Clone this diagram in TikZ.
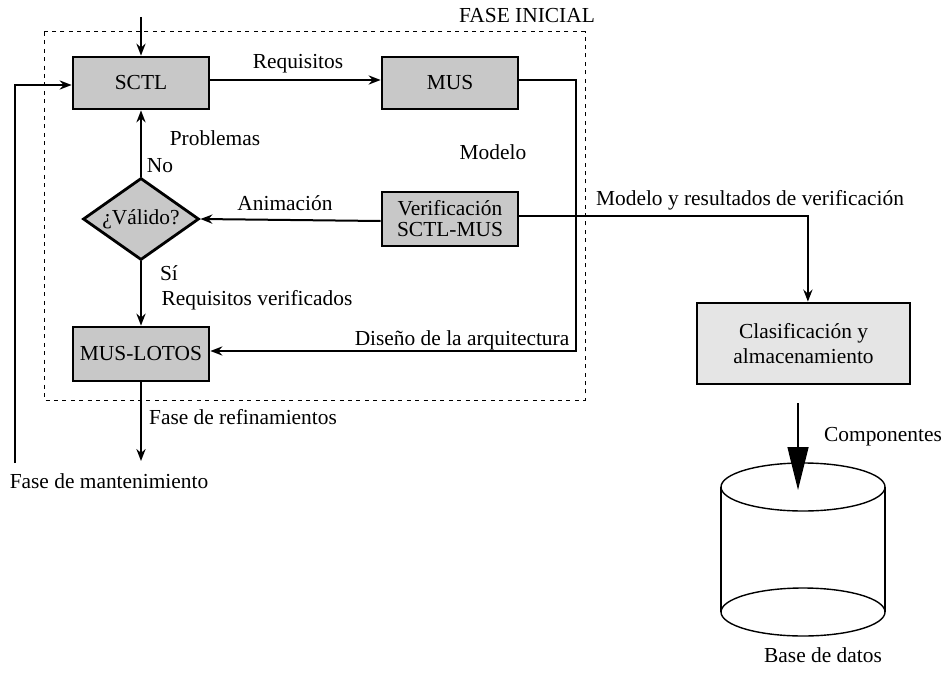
\documentclass[tikz,border=0pt]{standalone}
\usepackage{fontspec}
\setmainfont{Liberation Serif}
\usetikzlibrary{arrows.meta,shapes.geometric,calc}
\definecolor{boxgray}{RGB}{200,200,200}
\definecolor{lightgray}{RGB}{229,229,229}
\begin{document}
\begin{tikzpicture}[x=0.5pt,y=-0.5pt,
  font=\fontsize{10.7}{12.5}\selectfont,
  procbox/.style={draw, line width=1.4pt, fill=boxgray, inner sep=0pt, minimum width=68pt, minimum height=26pt, align=center},
  decbox/.style={draw, line width=1.4pt, fill=boxgray, shape=diamond, aspect=1.6, inner sep=0pt, minimum width=58pt, minimum height=41pt},
  conn/.style={line width=1pt, -{Stealth[length=6pt,width=4.6pt,inset=2pt]}},
  lbl/.style={inner sep=0pt}
]
\useasboundingbox (0,0) rectangle (946,674);
% dashed frame
\draw[line width=0.5pt, dash pattern=on 2pt off 2.2pt] (44,32) rectangle (585,400);
\node[lbl] (fase) at (527,16) {FASE INICIAL};

% nodes
\node[procbox] (sctl) at (141,83) {SCTL};
\node[procbox] (mus) at (450,83) {MUS};
\node[procbox, minimum height=27pt] (verif) at (450,219) {Verificación\\[-2pt]SCTL-MUS};
\node[decbox] (valido) at (141,219) {¿Válido?};
\node[procbox, minimum height=27pt] (muslotos) at (141,354) {MUS-LOTOS};
\node[draw, line width=1.4pt, fill=lightgray, inner sep=0pt, minimum width=106.5pt, minimum height=40.5pt, align=center] (clas) at (803.5,343.5) {Clasificación y\\almacenamiento};

% coordinates
\coordinate (topin) at (141,17);
\coordinate (mant) at (15,463);
\coordinate (refin) at (141,461);
\coordinate (bend) at (576,351);
\coordinate (compA) at (798,403);
\coordinate (compB) at (798,490);

% connectors
\draw[conn] (topin) -- (sctl.north);
\draw[conn] (mant) |- ([yshift=-1pt]sctl.west);
\draw[conn] ([yshift=1.5pt]sctl.east) -- ([yshift=1.5pt]mus.west);
\draw[conn] ([yshift=1.5pt]mus.east) -| (bend) -- ([yshift=1.5pt]muslotos.east);
\draw[conn] ([yshift=-1pt]verif.west) -- (valido.east);
\draw[conn] (valido.north) -- (sctl.south);
\draw[conn] (valido.south) -- (muslotos.north);
\draw[conn] (muslotos.south) -- (refin);
\draw[conn] ([yshift=1.5pt]verif.east) -| ([xshift=2.2pt]clas.north);
\draw[line width=0.7pt, -{Triangle[length=21.5pt,width=10.5pt]}] (compA) -- (compB);

% labels
\node[lbl] at (298,64) {Requisitos};
\node[lbl] at (215,138) {Problemas};
\node[lbl] at (160,166) {No};
\node[lbl] at (493,152) {Modelo};
\node[lbl] at (285,203) {Animación};
\node[lbl] at (169,273) {Sí};
\node[lbl] at (257,300) {Requisitos verificados};
\node[lbl] at (462,340) {Diseño de la arquitectura};
\node[lbl] at (243,417) {Fase de refinamientos};
\node[lbl] at (109,481) {Fase de mantenimiento};
\node[lbl] at (750,200) {Modelo y resultados de verificación};
\node[lbl] at (883,437) {Componentes};
\node[lbl] at (823,655) {Base de datos};

% database cylinder
\draw[line width=0.7pt] (803,487) ellipse [x radius=41pt, y radius=12pt];
\draw[line width=0.7pt] (803,612) ellipse [x radius=41pt, y radius=12pt];
\draw[line width=0.7pt] (721,487) -- (721,612);
\draw[line width=0.7pt] (885,487) -- (885,612);
\end{tikzpicture}
\end{document}
